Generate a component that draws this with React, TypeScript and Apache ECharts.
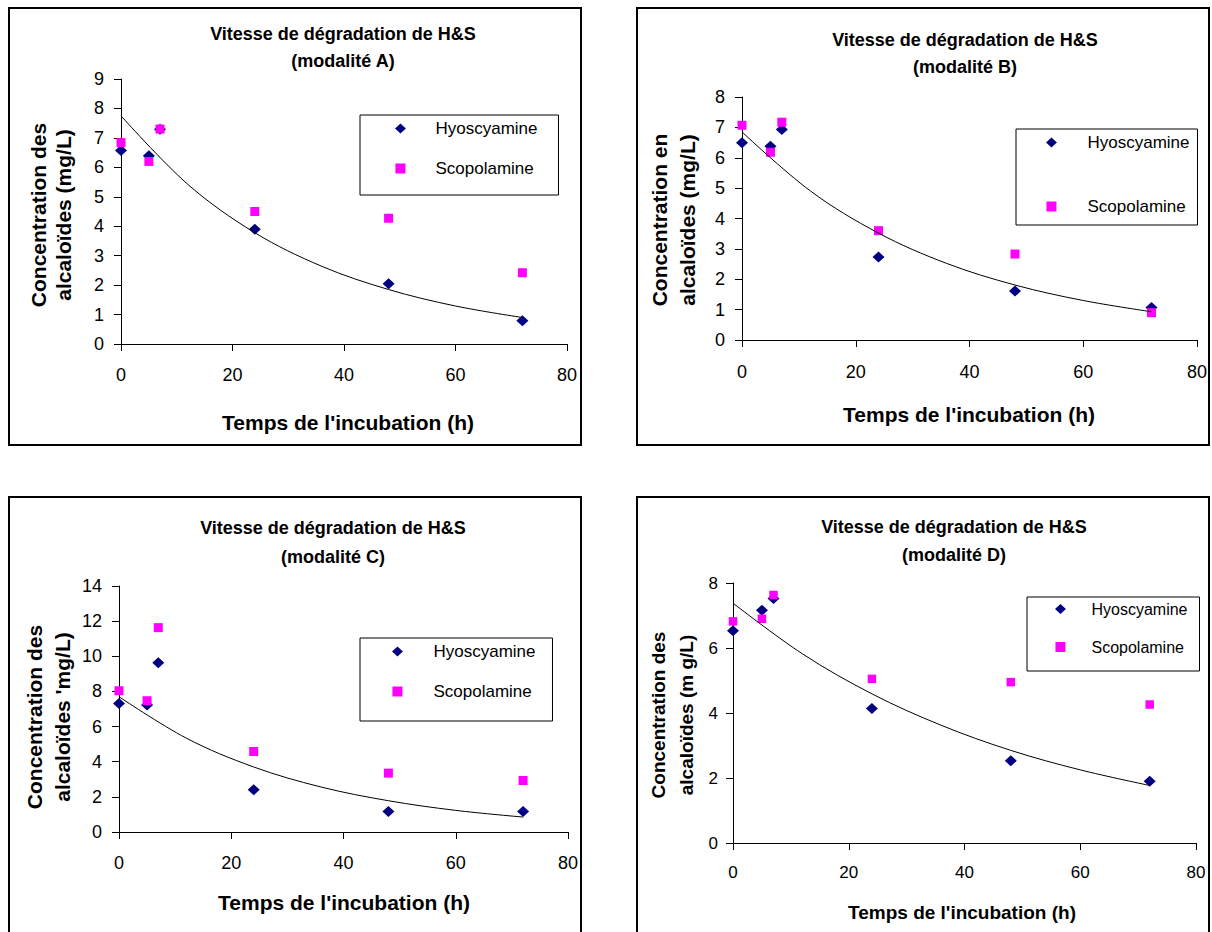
import React, { useEffect, useRef } from "react";
import * as echarts from "echarts";

// ---- data ----
const hours = [0, 5, 7, 24, 48, 72];
const hyoA = [6.57, 6.39, 7.29, 3.9, 2.05, 0.79];
const scoA = [6.84, 6.2, 7.3, 4.5, 4.27, 2.42];
const hyoB = [6.49, 6.38, 6.93, 2.73, 1.61, 1.07];
const scoB = [7.07, 6.18, 7.17, 3.6, 2.83, 0.9];
const hyoC = [7.32, 7.23, 9.63, 2.4, 1.17, 1.17];
const scoC = [8.04, 7.47, 11.63, 4.58, 3.35, 2.93];
const hyoD = [6.53, 7.16, 7.52, 4.14, 2.53, 1.9];
const scoD = [6.82, 6.9, 7.63, 5.05, 4.95, 4.26];
const trendHours = [0, 12, 24, 36, 48, 60, 72];
const trendA = [7.75, 5.42, 3.78, 2.64, 1.85, 1.29, 0.9];
const trendB = [6.85, 4.91, 3.52, 2.52, 1.81, 1.3, 0.93];
const trendC = [7.7, 5.34, 3.7, 2.56, 1.78, 1.23, 0.85];
const trendD = [7.38, 5.82, 4.59, 3.62, 2.85, 2.25, 1.77];
const xMin = 0;
const xMax = 80;
const xStep = 20;
const yMaxes = [9, 8, 14, 8];
const ySteps = [1, 1, 2, 2];
const titleLine1 = "Vitesse de dégradation de H&S";
const titleLine2 = ["(modalité A)", "(modalité B)", "(modalité C)", "(modalité D)"];
const yNames = [
  ["Concentration des", "alcaloïdes (mg/L)"],
  ["Concentration en", "alcaloïdes (mg/L)"],
  ["Concentration des", "alcaloïdes 'mg/L)"],
  ["Concentration des", "alcaloïdes (m g/L)"],
];
const xName = "Temps de l'incubation (h)";
const seriesNames = ["Hyoscyamine", "Scopolamine"];

const hyo = [hyoA, hyoB, hyoC, hyoD];
const sco = [scoA, scoB, scoC, scoD];
const trends = [trendA, trendB, trendC, trendD];

// ---- layout (page pixels) ----
const layouts = [
  {
    border: [9, 8, 572, 437],
    grid: [121, 79, 446, 265],
    title: [343, 34, 61],
    xName: [348, 422],
    yName: [38, 63, 215],
    legend: { left: 360, top: 115, pad: [5, 21, 18, 35], itemWidth: 60, gap: 23 },
    fonts: { tick: 18, axis: 21, legend: 17, title: 18 },
    margins: { x: 22, y: 17 },
    sizes: { d: [12, 11], s: 9 },
  },
  {
    border: [637, 8, 572, 437],
    grid: [742, 97, 455, 243],
    title: [965, 40, 67],
    xName: [969, 414],
    yName: [659, 687, 220],
    legend: { left: 1016, top: 129, pad: [5, 8, 10, 30], itemWidth: 62, gap: 47 },
    fonts: { tick: 18, axis: 21, legend: 17, title: 18 },
    margins: { x: 23, y: 17 },
    sizes: { d: [12, 11], s: 9 },
  },
  {
    border: [9, 497, 572, 460],
    grid: [119, 586, 449, 246],
    title: [333, 528, 557],
    xName: [344, 902],
    yName: [34, 62, 717],
    legend: { left: 360, top: 638, pad: [5, 17, 21, 32], itemWidth: 62, gap: 23 },
    fonts: { tick: 18, axis: 21, legend: 17, title: 18 },
    margins: { x: 22, y: 17 },
    sizes: { d: [12, 11], s: 9 },
  },
  {
    border: [637, 497, 572, 460],
    grid: [733, 583, 463, 260],
    title: [954, 527, 555],
    xName: [962, 912],
    yName: [658, 686, 715],
    legend: { left: 1027, top: 597, pad: [4, 12, 16, 28], itemWidth: 52, gap: 22 },
    fonts: { tick: 17, axis: 19, legend: 16, title: 18 },
    margins: { x: 21, y: 15 },
    sizes: { d: [12, 11], s: 8.5 },
  },
];

const FONT = "'Liberation Sans', Arial, sans-serif";
const NAVY = "#000080";
const MAGENTA = "#FF00FF";
const DIAMOND_ICON = "path://M6,0L12,5.5L6,11L0,5.5Z";
const SQUARE_ICON = "path://M0,0L10,0L10,10L0,10Z";

function text(x: number, y: number, t: string, size: number, bold: boolean, rotation = 0) {
  return {
    type: "text",
    x,
    y,
    rotation,
    silent: true,
    style: {
      text: t,
      fontSize: size,
      fontWeight: bold ? "bold" : "normal",
      fontFamily: FONT,
      fill: "#000",
      align: "center",
      verticalAlign: "middle",
    },
  };
}

export default function App() {
  const ref = useRef<HTMLDivElement>(null);
  useEffect(() => {
    if (!ref.current) return;
    const chart = echarts.init(ref.current, undefined, { renderer: "svg" });

    const grids: any[] = [];
    const xAxes: any[] = [];
    const yAxes: any[] = [];
    const series: any[] = [];
    const legends: any[] = [];
    const graphics: any[] = [];

    layouts.forEach((L, i) => {
      grids.push({
        left: L.grid[0],
        top: L.grid[1],
        width: L.grid[2],
        height: L.grid[3],
        containLabel: false,
        outerBoundsMode: "none",
      });
      const axisCommon = {
        type: "value",
        gridIndex: i,
        axisLine: { show: true, lineStyle: { color: "#000", width: 1 } },
        axisTick: { show: true, length: 7, lineStyle: { color: "#000", width: 1 } },
        splitLine: { show: false },
      };
      xAxes.push({
        ...axisCommon,
        min: xMin,
        max: xMax,
        interval: xStep,
        axisLabel: { color: "#000", fontSize: L.fonts.tick, fontFamily: FONT, margin: L.margins.x },
      });
      yAxes.push({
        ...axisCommon,
        min: 0,
        max: yMaxes[i],
        interval: ySteps[i],
        axisLabel: { color: "#000", fontSize: L.fonts.tick, fontFamily: FONT, margin: L.margins.y },
      });
      series.push({
        type: "scatter",
        name: seriesNames[0],
        xAxisIndex: i,
        yAxisIndex: i,
        symbol: "diamond",
        symbolSize: L.sizes.d,
        itemStyle: { color: NAVY, opacity: 1 },
        data: hours.map((h, j) => [h, hyo[i][j]]),
        z: 2,
      });
      series.push({
        type: "scatter",
        name: seriesNames[1],
        xAxisIndex: i,
        yAxisIndex: i,
        symbol: "rect",
        symbolSize: L.sizes.s,
        itemStyle: { color: MAGENTA, opacity: 1 },
        data: hours.map((h, j) => [h, sco[i][j]]),
        z: 3,
      });
      series.push({
        type: "line",
        name: "Tendance",
        xAxisIndex: i,
        yAxisIndex: i,
        smooth: 0.35,
        showSymbol: false,
        symbol: "none",
        lineStyle: { color: "#000", width: 1 },
        data: trendHours.map((h, j) => [h, trends[i][j]]),
        z: 4,
        silent: true,
      });
      legends.push({
        orient: "vertical",
        left: L.legend.left,
        top: L.legend.top,
        padding: L.legend.pad,
        itemWidth: L.legend.itemWidth,
        itemHeight: 10,
        itemGap: L.legend.gap,
        selectedMode: false,
        borderColor: "#000",
        borderWidth: 1,
        backgroundColor: "#fff",
        symbolKeepAspect: true,
        textStyle: { color: "#000", fontSize: L.fonts.legend, fontFamily: FONT, lineHeight: 14 },
        data: [
          { name: seriesNames[0], icon: DIAMOND_ICON, itemStyle: { color: NAVY, opacity: 1 } },
          { name: seriesNames[1], icon: SQUARE_ICON, itemStyle: { color: MAGENTA, opacity: 1 } },
        ],
      });
      graphics.push({
        type: "rect",
        silent: true,
        shape: { x: L.border[0], y: L.border[1], width: L.border[2], height: L.border[3] },
        style: { fill: "none", stroke: "#000", lineWidth: 2 },
      });
      graphics.push(text(L.title[0], L.title[1], titleLine1, L.fonts.title, true));
      graphics.push(text(L.title[0], L.title[2], titleLine2[i], L.fonts.title, true));
      graphics.push(text(L.xName[0], L.xName[1], xName, L.fonts.axis, true));
      graphics.push(text(L.yName[0], L.yName[2], yNames[i][0], L.fonts.axis, true, Math.PI / 2));
      graphics.push(text(L.yName[1], L.yName[2], yNames[i][1], L.fonts.axis, true, Math.PI / 2));
    });

    chart.setOption({
      animation: false,
      backgroundColor: "#fff",
      grid: grids,
      xAxis: xAxes,
      yAxis: yAxes,
      legend: legends,
      series,
      graphic: { elements: graphics },
    });
    return () => chart.dispose();
  }, []);

  return (
    <div
      ref={ref}
      style={{ position: "absolute", left: 0, top: 0, width: 1212, height: 932, background: "#fff" }}
    />
  );
}
